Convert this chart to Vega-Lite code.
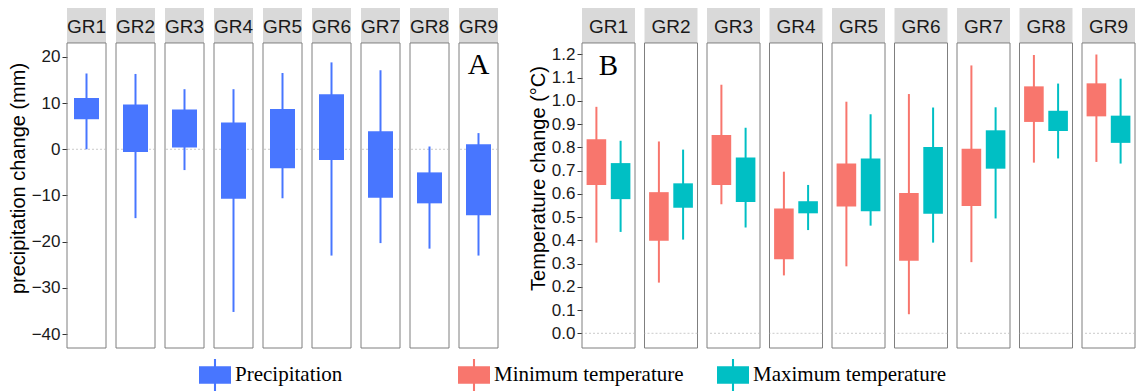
{
  "$schema": "https://vega.github.io/schema/vega-lite/v6.json",
  "padding": {"left": 8, "top": 8, "right": 0, "bottom": 0},
  "background": "white",
  "spacing": 29,
  "datasets": {
    "precip": [
      {"group": "GR1", "var": "Precipitation", "min": 0.0, "q1": 6.5, "q3": 11.1, "max": 16.4},
      {"group": "GR2", "var": "Precipitation", "min": -14.9, "q1": -0.6, "q3": 9.7, "max": 16.3},
      {"group": "GR3", "var": "Precipitation", "min": -4.5, "q1": 0.4, "q3": 8.6, "max": 13.0},
      {"group": "GR4", "var": "Precipitation", "min": -35.2, "q1": -10.7, "q3": 5.8, "max": 13.0},
      {"group": "GR5", "var": "Precipitation", "min": -10.6, "q1": -4.1, "q3": 8.7, "max": 16.5},
      {"group": "GR6", "var": "Precipitation", "min": -23.0, "q1": -2.3, "q3": 11.9, "max": 18.8},
      {"group": "GR7", "var": "Precipitation", "min": -20.3, "q1": -10.5, "q3": 3.9, "max": 17.1},
      {"group": "GR8", "var": "Precipitation", "min": -21.5, "q1": -11.7, "q3": -5.0, "max": 0.6},
      {"group": "GR9", "var": "Precipitation", "min": -23.0, "q1": -14.3, "q3": 1.1, "max": 3.5}
    ],
    "temp": [
      {"group": "GR1", "var": "Minimum temperature", "min": 0.39, "q1": 0.638, "q3": 0.835, "max": 0.974},
      {"group": "GR1", "var": "Maximum temperature", "min": 0.436, "q1": 0.577, "q3": 0.732, "max": 0.828},
      {"group": "GR2", "var": "Minimum temperature", "min": 0.218, "q1": 0.398, "q3": 0.607, "max": 0.825},
      {"group": "GR2", "var": "Maximum temperature", "min": 0.403, "q1": 0.54, "q3": 0.645, "max": 0.79},
      {"group": "GR3", "var": "Minimum temperature", "min": 0.555, "q1": 0.638, "q3": 0.853, "max": 1.069},
      {"group": "GR3", "var": "Maximum temperature", "min": 0.455, "q1": 0.565, "q3": 0.756, "max": 0.884},
      {"group": "GR4", "var": "Minimum temperature", "min": 0.249, "q1": 0.319, "q3": 0.537, "max": 0.695},
      {"group": "GR4", "var": "Maximum temperature", "min": 0.444, "q1": 0.516, "q3": 0.568, "max": 0.638},
      {"group": "GR5", "var": "Minimum temperature", "min": 0.288, "q1": 0.545, "q3": 0.73, "max": 0.996},
      {"group": "GR5", "var": "Maximum temperature", "min": 0.463, "q1": 0.525, "q3": 0.752, "max": 0.942},
      {"group": "GR6", "var": "Minimum temperature", "min": 0.082, "q1": 0.312, "q3": 0.603, "max": 1.029},
      {"group": "GR6", "var": "Maximum temperature", "min": 0.39, "q1": 0.514, "q3": 0.801, "max": 0.971},
      {"group": "GR7", "var": "Minimum temperature", "min": 0.306, "q1": 0.547, "q3": 0.794, "max": 1.152},
      {"group": "GR7", "var": "Maximum temperature", "min": 0.494, "q1": 0.708, "q3": 0.873, "max": 0.972},
      {"group": "GR8", "var": "Minimum temperature", "min": 0.734, "q1": 0.909, "q3": 1.062, "max": 1.197},
      {"group": "GR8", "var": "Maximum temperature", "min": 0.752, "q1": 0.87, "q3": 0.957, "max": 1.074},
      {"group": "GR9", "var": "Minimum temperature", "min": 0.737, "q1": 0.933, "q3": 1.075, "max": 1.199},
      {"group": "GR9", "var": "Maximum temperature", "min": 0.73, "q1": 0.819, "q3": 0.936, "max": 1.095}
    ]
  },
  "hconcat": [
    {
      "data": {"name": "precip"},
      "facet": {"column": {"field": "group", "type": "nominal", "title": null, "header": {"labels": false, "title": null}}},
      "spacing": {"column": 10},
      "bounds": "flush",
      "spec": {
        "width": 39,
        "height": 340,
        "layer": [
          {
            "mark": {"type": "rect", "color": "#D9D9D9"},
            "encoding": {
              "y": {"datum": 23, "type": "quantitative", "scale": {"domain": [-43, 30.57], "nice": false, "zero": false}, "title": "precipitation change (mm)", "axis": {"values": [-40, -30, -20, -10, 0, 10, 20]}},
              "y2": {"datum": 30.57}
            }
          },
          {
            "mark": {"type": "rect", "filled": false, "color": "#7F7F7F", "strokeWidth": 1},
            "encoding": {
              "y": {"datum": -43, "type": "quantitative", "scale": {"domain": [-43, 30.57], "nice": false, "zero": false}, "title": "precipitation change (mm)", "axis": {"values": [-40, -30, -20, -10, 0, 10, 20]}},
              "y2": {"datum": 23}
            }
          },
          {
            "mark": {"type": "rule", "color": "#BDBDBD", "strokeWidth": 0.8, "strokeDash": [2, 2]},
            "encoding": {
              "y": {"datum": 0, "type": "quantitative", "scale": {"domain": [-43, 30.57], "nice": false, "zero": false}, "title": "precipitation change (mm)", "axis": {"values": [-40, -30, -20, -10, 0, 10, 20]}}
            }
          },
          {
            "mark": {"type": "rule", "strokeWidth": 2},
            "encoding": {
              "x": {"field": "var", "type": "nominal", "axis": null, "scale": {"paddingInner": 0, "paddingOuter": 0.28}},
              "y": {"field": "min", "type": "quantitative", "scale": {"domain": [-43, 30.57], "nice": false, "zero": false}, "title": "precipitation change (mm)", "axis": {"values": [-40, -30, -20, -10, 0, 10, 20]}},
              "y2": {"field": "max"},
              "color": {"field": "var", "type": "nominal",
                        "scale": {"domain": ["Precipitation", "Minimum temperature", "Maximum temperature"], "range": ["#4876FF", "#F8766D", "#00BFC4"]},
                        "legend": {"orient": "none", "legendX": 132, "legendY": 351, "direction": "horizontal", "title": null}}
            }
          },
          {
            "mark": {"type": "bar"},
            "encoding": {
              "x": {"field": "var", "type": "nominal", "axis": null, "scale": {"paddingInner": 0, "paddingOuter": 0.28}},
              "y": {"field": "q1", "type": "quantitative", "scale": {"domain": [-43, 30.57], "nice": false, "zero": false}, "title": "precipitation change (mm)", "axis": {"values": [-40, -30, -20, -10, 0, 10, 20]}},
              "y2": {"field": "q3"},
              "color": {"field": "var", "type": "nominal",
                        "scale": {"domain": ["Precipitation", "Minimum temperature", "Maximum temperature"], "range": ["#4876FF", "#F8766D", "#00BFC4"]},
                        "legend": {"orient": "none", "legendX": 132, "legendY": 351, "direction": "horizontal", "title": null}}
            }
          },
          {
            "mark": {"type": "text", "font": "Liberation Sans", "fontSize": 19, "color": "#1A1A1A", "baseline": "middle", "align": "center"},
            "encoding": {
              "text": {"field": "group"},
              "y": {"datum": 26.46, "type": "quantitative", "scale": {"domain": [-43, 30.57], "nice": false, "zero": false}, "title": "precipitation change (mm)", "axis": {"values": [-40, -30, -20, -10, 0, 10, 20]}}
            }
          },
          {
            "transform": [{"filter": "datum.group === 'GR9'"}],
            "mark": {"type": "text", "font": "Liberation Serif", "fontSize": 30, "color": "black", "baseline": "middle", "align": "center"},
            "encoding": {
              "text": {"value": "A"},
              "y": {"datum": 18.13, "type": "quantitative", "scale": {"domain": [-43, 30.57], "nice": false, "zero": false}, "title": "precipitation change (mm)", "axis": {"values": [-40, -30, -20, -10, 0, 10, 20]}}
            }
          }
        ]
      }
    },
    {
      "data": {"name": "temp"},
      "facet": {"column": {"field": "group", "type": "nominal", "title": null, "header": {"labels": false, "title": null}}},
      "spacing": {"column": 9.5},
      "bounds": "flush",
      "spec": {
        "width": 53,
        "height": 340,
        "layer": [
          {
            "transform": [{"filter": "datum.var === 'Minimum temperature'"}],
            "mark": {"type": "rect", "color": "#D9D9D9"},
            "encoding": {
              "y": {"datum": 1.2486, "type": "quantitative", "scale": {"domain": [-0.0632, 1.399], "nice": false, "zero": false}, "title": "Temperature change (°C)", "axis": {"values": [0, 0.1, 0.2, 0.3, 0.4, 0.5, 0.6, 0.7, 0.8, 0.9, 1.0, 1.1, 1.2], "format": ".1f", "labelOverlap": false}},
              "y2": {"datum": 1.399}
            }
          },
          {
            "transform": [{"filter": "datum.var === 'Minimum temperature'"}],
            "mark": {"type": "rect", "filled": false, "color": "#7F7F7F", "strokeWidth": 1},
            "encoding": {
              "y": {"datum": -0.0632, "type": "quantitative", "scale": {"domain": [-0.0632, 1.399], "nice": false, "zero": false}, "title": "Temperature change (°C)", "axis": {"values": [0, 0.1, 0.2, 0.3, 0.4, 0.5, 0.6, 0.7, 0.8, 0.9, 1.0, 1.1, 1.2], "format": ".1f", "labelOverlap": false}},
              "y2": {"datum": 1.2486}
            }
          },
          {
            "transform": [{"filter": "datum.var === 'Minimum temperature'"}],
            "mark": {"type": "rule", "color": "#BDBDBD", "strokeWidth": 0.8, "strokeDash": [2, 2]},
            "encoding": {
              "y": {"datum": 0, "type": "quantitative", "scale": {"domain": [-0.0632, 1.399], "nice": false, "zero": false}, "title": "Temperature change (°C)", "axis": {"values": [0, 0.1, 0.2, 0.3, 0.4, 0.5, 0.6, 0.7, 0.8, 0.9, 1.0, 1.1, 1.2], "format": ".1f", "labelOverlap": false}}
            }
          },
          {
            "mark": {"type": "rule", "strokeWidth": 2},
            "encoding": {
              "x": {"field": "var", "type": "nominal", "axis": null, "scale": {"domain": ["Minimum temperature", "Maximum temperature"], "paddingInner": 0.19, "paddingOuter": 0.19}},
              "y": {"field": "min", "type": "quantitative", "scale": {"domain": [-0.0632, 1.399], "nice": false, "zero": false}, "title": "Temperature change (°C)", "axis": {"values": [0, 0.1, 0.2, 0.3, 0.4, 0.5, 0.6, 0.7, 0.8, 0.9, 1.0, 1.1, 1.2], "format": ".1f", "labelOverlap": false}},
              "y2": {"field": "max"},
              "color": {"field": "var", "type": "nominal",
                        "scale": {"domain": ["Precipitation", "Minimum temperature", "Maximum temperature"], "range": ["#4876FF", "#F8766D", "#00BFC4"]},
                        "legend": {"orient": "none", "legendX": 132, "legendY": 351, "direction": "horizontal", "title": null}}
            }
          },
          {
            "mark": {"type": "bar"},
            "encoding": {
              "x": {"field": "var", "type": "nominal", "axis": null, "scale": {"domain": ["Minimum temperature", "Maximum temperature"], "paddingInner": 0.19, "paddingOuter": 0.19}},
              "y": {"field": "q1", "type": "quantitative", "scale": {"domain": [-0.0632, 1.399], "nice": false, "zero": false}, "title": "Temperature change (°C)", "axis": {"values": [0, 0.1, 0.2, 0.3, 0.4, 0.5, 0.6, 0.7, 0.8, 0.9, 1.0, 1.1, 1.2], "format": ".1f", "labelOverlap": false}},
              "y2": {"field": "q3"},
              "color": {"field": "var", "type": "nominal",
                        "scale": {"domain": ["Precipitation", "Minimum temperature", "Maximum temperature"], "range": ["#4876FF", "#F8766D", "#00BFC4"]},
                        "legend": {"orient": "none", "legendX": 132, "legendY": 351, "direction": "horizontal", "title": null}}
            }
          },
          {
            "transform": [{"filter": "datum.var === 'Minimum temperature'"}],
            "mark": {"type": "text", "font": "Liberation Sans", "fontSize": 19, "color": "#1A1A1A", "baseline": "middle", "align": "center"},
            "encoding": {
              "text": {"field": "group"},
              "y": {"datum": 1.3174, "type": "quantitative", "scale": {"domain": [-0.0632, 1.399], "nice": false, "zero": false}, "title": "Temperature change (°C)", "axis": {"values": [0, 0.1, 0.2, 0.3, 0.4, 0.5, 0.6, 0.7, 0.8, 0.9, 1.0, 1.1, 1.2], "format": ".1f", "labelOverlap": false}}
            }
          },
          {
            "transform": [{"filter": "datum.group === 'GR1' && datum.var === 'Minimum temperature'"}],
            "mark": {"type": "text", "font": "Liberation Serif", "fontSize": 29, "color": "black", "baseline": "middle", "align": "center"},
            "encoding": {
              "text": {"value": "B"},
              "y": {"datum": 1.1497, "type": "quantitative", "scale": {"domain": [-0.0632, 1.399], "nice": false, "zero": false}, "title": "Temperature change (°C)", "axis": {"values": [0, 0.1, 0.2, 0.3, 0.4, 0.5, 0.6, 0.7, 0.8, 0.9, 1.0, 1.1, 1.2], "format": ".1f", "labelOverlap": false}}
            }
          }
        ]
      }
    }
  ],
  "resolve": {"scale": {"color": "shared"}, "legend": {"color": "shared"}},
  "config": {
    "view": {"stroke": null},
    "font": "Liberation Sans",
    "axis": {
      "domain": false,
      "grid": false,
      "tickColor": "#333333",
      "tickSize": 5,
      "labelPadding": 2,
      "labelOverlap": false,
      "labelFont": "Liberation Sans",
      "labelFontSize": 17,
      "labelColor": "#1A1A1A",
      "titleFont": "Liberation Sans",
      "titleFontSize": 20,
      "titleFontWeight": "normal",
      "titleColor": "#000000",
      "titlePadding": 3
    },
    "legend": {
      "symbolType": "M-1,-0.55H1V0.55H-1Z M-0.065,-1H0.065V1H-0.065Z",
      "symbolSize": 1024,
      "symbolStrokeWidth": 0,
      "symbolOpacity": 1,
      "labelFont": "Liberation Serif",
      "labelFontSize": 21,
      "labelColor": "#000000",
      "labelOffset": 4,
      "labelLimit": 400,
      "gridAlign": "all",
      "columnPadding": 29,
      "padding": 0
    }
  }
}
